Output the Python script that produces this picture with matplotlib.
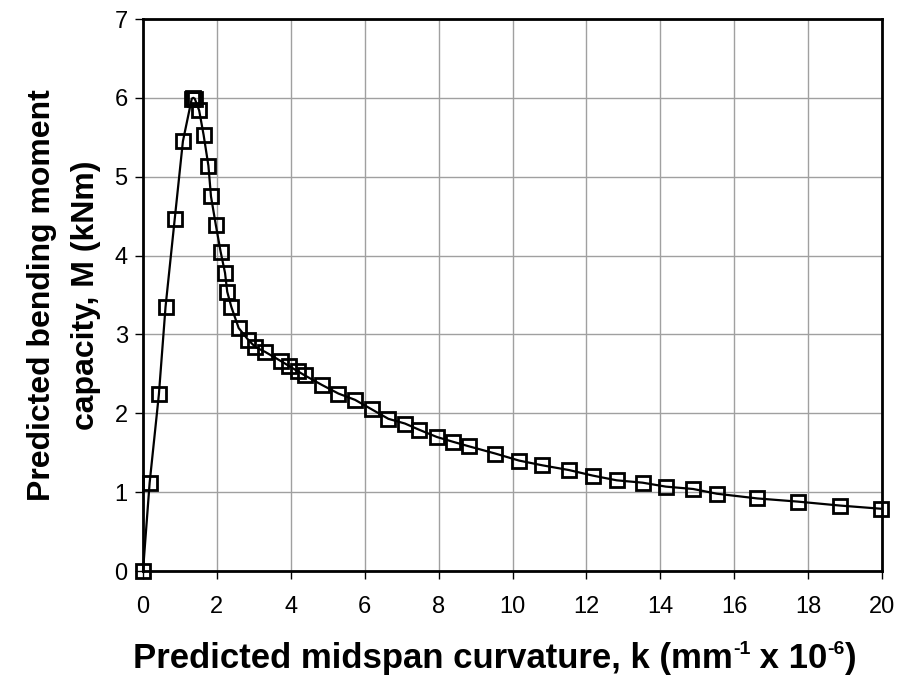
import matplotlib
matplotlib.use("Agg")
import matplotlib.pyplot as plt

plt.rcParams['font.family'] = ['Liberation Sans', 'DejaVu Sans']

# curvature (mm^-1 x 10^-6)
k = [0, 0.18, 0.43, 0.61, 0.86, 1.08, 1.32, 1.36, 1.40, 1.52, 1.64, 1.77, 1.84,
     1.97, 2.10, 2.22, 2.28, 2.39, 2.59, 2.85, 3.04, 3.30, 3.74, 3.95, 4.20,
     4.38, 4.84, 5.29, 5.74, 6.19, 6.64, 7.09, 7.48, 7.95, 8.38, 8.83, 9.53,
     10.18, 10.81, 11.53, 12.17, 12.82, 13.52, 14.15, 14.89, 15.53, 16.63,
     17.72, 18.86, 19.96]
# bending moment (kNm)
M = [0, 1.12, 2.24, 3.35, 4.47, 5.45, 5.99, 6.0, 5.99, 5.84, 5.53, 5.14, 4.75,
     4.39, 4.05, 3.78, 3.54, 3.35, 3.08, 2.93, 2.84, 2.78, 2.66, 2.60, 2.53,
     2.48, 2.36, 2.25, 2.17, 2.05, 1.93, 1.87, 1.79, 1.70, 1.64, 1.58, 1.49,
     1.40, 1.34, 1.28, 1.21, 1.15, 1.12, 1.07, 1.04, 0.98, 0.92, 0.88, 0.83,
     0.79]

xticks = list(range(0, 21, 2))
yticks = list(range(0, 8))

# x label pieces: (text, superscript?)
xlabel_parts = [('Predicted midspan curvature, k (mm', False), ('-1', True),
                (' x 10', False), ('-6', True), (')', False)]
ylabel = 'Predicted bending moment\ncapacity, M (kNm)'

W, H = 899, 675
fig = plt.figure(figsize=(W / 100, H / 100), dpi=100)
ax = fig.add_axes([143 / W, 1 - 571 / H, 739 / W, 552 / H])

ax.plot(k, M, color='black', lw=1.6, marker='s', ms=10, mfc='none',
        mec='black', mew=2, clip_on=False, zorder=3)

ax.set_xlim(0, 20)
ax.set_ylim(0, 7)
ax.set_xticks(xticks)
ax.set_yticks(yticks)
ax.grid(True, color='#a0a0a0', lw=1)
ax.set_axisbelow(True)
for s in ax.spines.values():
    s.set_linewidth(2)
    s.set_color('black')
ax.tick_params(direction='out', length=6, width=1, labelsize=17)
ax.tick_params(axis='x', pad=12)
ax.tick_params(axis='y', pad=5)

ax.set_ylabel(ylabel, fontsize=23, fontweight='bold', labelpad=10,
              linespacing=1.6)

# x label built from pieces so the superscripts use a plain hyphen
fig.canvas.draw()
r = fig.canvas.get_renderer()
baseline = 7  # px from bottom
texts = []
xpos = 0
for txt, sup in xlabel_parts:
    size = 14 if sup else 25
    y = baseline + (14 if sup else 0)
    t = fig.text(xpos / W, y / H, txt, fontsize=size, fontweight='bold',
                 va='baseline', ha='left')
    texts.append(t)
    xpos = t.get_window_extent(r).x1
total = xpos
start = 495 - total / 2
for t in texts:
    t.set_x(t.get_position()[0] + start / W)

fig.savefig('out.png', dpi=100)
